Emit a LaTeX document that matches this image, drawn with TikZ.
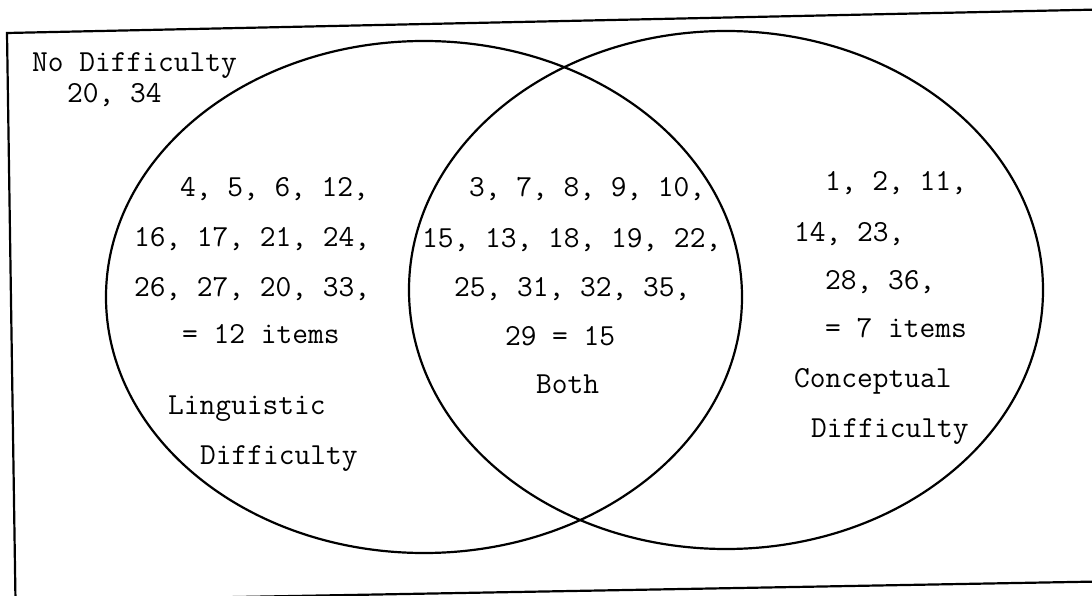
\documentclass[tikz,border=0pt]{standalone}
\usepackage{fontspec}
\begin{document}
\begin{tikzpicture}[x=1bp,y=-1bp,
  lbl/.style={anchor=base west, inner sep=0pt, outer sep=0pt, text=black,
              font=\ttfamily\fontsize{30.7}{36}\selectfont},
  ring/.style={draw=black, line width=2.2bp},
  frame/.style={draw=black, line width=2.2bp}]
\useasboundingbox (0,0) rectangle (1092,596);
\begin{scope}
  \clip (0,0) rectangle (1092,596);
  \coordinate (tl) at (7,33);
  \coordinate (tr) at (1100,9.5);
  \coordinate (bl) at (15.5,601);
  \coordinate (br) at (1100,581.5);
  \draw[frame] (tr) -- (tl) -- (bl) -- (br);
\end{scope}
\draw[ring] (424,297) ellipse [x radius=318bp, y radius=256bp];
\draw[ring] (726,290) ellipse [x radius=317bp, y radius=259bp];
% No difficulty
\node[lbl] (nd1) at (32,72) {No Difficulty};
\node[lbl] (nd2) at (67,103) {20, 34};
% Linguistic
\node[lbl] (l1) at (180,197) {4, 5, 6, 12,};
\node[lbl] (l2) at (134,247) {16, 17, 21, 24,};
\node[lbl] (l3) at (134,297) {26, 27, 20, 33,};
\node[lbl] (l4) at (182,343) {= 12 items};
\node[lbl] (l5) at (168,414) {Linguistic};
\node[lbl] (l6) at (200,464) {Difficulty};
% Both
\node[lbl] (b1) at (469,197) {3, 7, 8, 9, 10,};
\node[lbl] (b2) at (422,248) {15, 13, 18, 19, 22,};
\node[lbl] (b3) at (454,297) {25, 31, 32, 35,};
\node[lbl] (b4) at (505,345) {29 = 15};
\node[lbl] (b5) at (536,393) {Both};
% Conceptual
\node[lbl] (c1) at (825,191) {1, 2, 11,};
\node[lbl] (c2) at (794,242) {14, 23,};
\node[lbl] (c3) at (825,290) {28, 36,};
\node[lbl] (c4) at (825,337) {= 7 items};
\node[lbl] (c5) at (794,387) {Conceptual};
\node[lbl] (c6) at (811,437) {Difficulty};
\end{tikzpicture}
\end{document}
